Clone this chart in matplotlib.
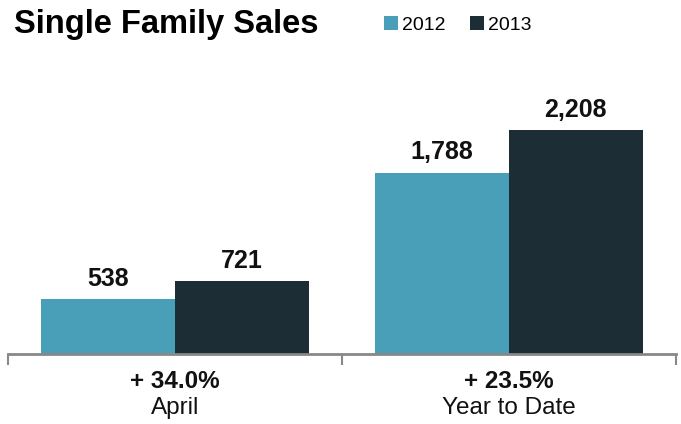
import matplotlib
matplotlib.use("Agg")
import matplotlib.pyplot as plt
import matplotlib.transforms as mtransforms
import numpy as np

categories = ["April", "Year to Date"]
changes = ["+ 34.0%", "+ 23.5%"]
series_names = ["2012", "2013"]
values_2012 = [538, 1788]
values_2013 = [721, 2208]

colors = ["#4A9FB8", "#1C2D35"]

plt.rcParams['font.family'] = ['Liberation Sans', 'DejaVu Sans']

fig = plt.figure(figsize=(6.81, 4.24), dpi=100)
ax = fig.add_axes([8/681, 70/424, 668/681, 294/424])

x = np.arange(len(categories))
w = 0.4
b1 = ax.bar(x - w/2, values_2012, w, color=colors[0], label=series_names[0])
b2 = ax.bar(x + w/2, values_2013, w, color=colors[1], label=series_names[1])

ax.set_xlim(-0.5, len(categories) - 0.5)
ax.set_ylim(0, 2898)

for bars in (b1, b2):
    for r in bars:
        ax.annotate(f"{int(r.get_height()):,}", (r.get_x() + r.get_width()/2, r.get_height()),
                    xytext=(0, 6), textcoords="offset points", ha="center", va="bottom",
                    fontsize=18, fontweight="bold", color="#111111")

for s in ["top", "left", "right"]:
    ax.spines[s].set_visible(False)
ax.spines["bottom"].set_color("#888888")
ax.spines["bottom"].set_linewidth(2)
ax.set_yticks([])
ax.set_xticks(np.arange(-0.5, len(categories)))
ax.set_xticklabels([])
ax.tick_params(axis="x", direction="out", length=8, width=1.5, color="#888888")

trans = mtransforms.blended_transform_factory(ax.transData, fig.transFigure)
for i, (c, ch) in enumerate(zip(categories, changes)):
    ax.text(i, 1 - 381/424, ch, transform=trans, ha="center", va="center",
            fontsize=17.5, fontweight="bold", color="#111111")
    ax.text(i, 1 - 408/424, c, transform=trans, ha="center", va="center",
            fontsize=17.5, color="#111111")

fig.text(14/681, 1 - 24/424, "Single Family Sales", ha="left", va="center",
         fontsize=23.5, fontweight="bold", color="#000000")

leg = fig.legend(handles=[b1, b2], labels=series_names, loc="center left",
                 bbox_to_anchor=(384/681, 1 - 25/424), ncol=2, frameon=False,
                 fontsize=14, handlelength=0.7, handleheight=0.7, handletextpad=0.2,
                 columnspacing=1.3, borderaxespad=0, borderpad=0)

fig.savefig("out.png", dpi=100)
